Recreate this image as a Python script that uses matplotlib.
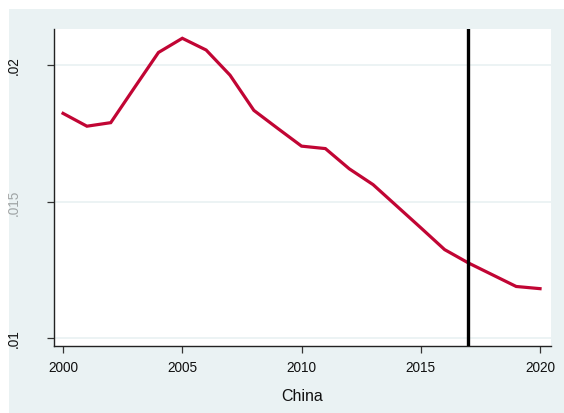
import matplotlib
matplotlib.use("Agg")
import matplotlib.pyplot as plt
from matplotlib.patches import Rectangle

plt.rcParams['font.family'] = ['Liberation Sans', 'DejaVu Sans']

# yearly series for China
years = list(range(2000, 2021))
share = [0.01823, 0.01776, 0.01789, 0.01918, 0.02046, 0.02098, 0.02055,
         0.01963, 0.01834, 0.01768, 0.01703, 0.01694, 0.01620, 0.01562,
         0.01483, 0.01404, 0.01324, 0.01275, 0.01232, 0.01189, 0.01181]
marker_year = 2017
x_ticks = [2000, 2005, 2010, 2015, 2020]
y_ticks = [0.01, 0.015, 0.02]
y_tick_labels = ['.01', '.015', '.02']
x_title = 'China'

bg = '#EAF2F3'
line_color = '#C10534'

fig = plt.figure(figsize=(5.64, 4.14), dpi=100, facecolor='white')
# graph region background, leaving a thin white strip top and left
fig.patches.append(Rectangle((9 / 564, 0), 1, 1 - 10 / 414, transform=fig.transFigure,
                             facecolor=bg, edgecolor='none', zorder=-1))

ax = fig.add_axes([54 / 564, 1 - 347 / 414, 497 / 564, 317 / 414])
ax.set_facecolor('white')

ax.plot(years, share, color=line_color, linewidth=2.3, solid_joinstyle='miter', zorder=3)
ax.axvline(marker_year, color='black', linewidth=2.4, zorder=4)

ax.set_xlim(1999.62, 2020.46)
ax.set_ylim(0.00971, 0.02132)

ax.set_xticks(x_ticks)
ax.set_yticks(y_ticks)
ax.set_yticklabels(y_tick_labels, rotation=90, va='center')
labels = ax.get_yticklabels()
labels[1].set_alpha(0.35)

ax.grid(axis='y', color=bg, linewidth=1.3, zorder=1)
ax.grid(axis='x', visible=False)

for side in ['top', 'right']:
    ax.spines[side].set_visible(False)
for side in ['left', 'bottom']:
    ax.spines[side].set_color('#222222')
    ax.spines[side].set_linewidth(1.0)

ax.tick_params(axis='both', direction='out', length=5, width=0.9, color='#333333',
               labelsize=9.8, labelcolor='#111111')
ax.tick_params(axis='x', pad=5)
ax.tick_params(axis='y', pad=19)

ax.set_xlabel(x_title, fontsize=11.5, color='#111111', labelpad=10)

fig.savefig('out.png', dpi=100, facecolor='white')
